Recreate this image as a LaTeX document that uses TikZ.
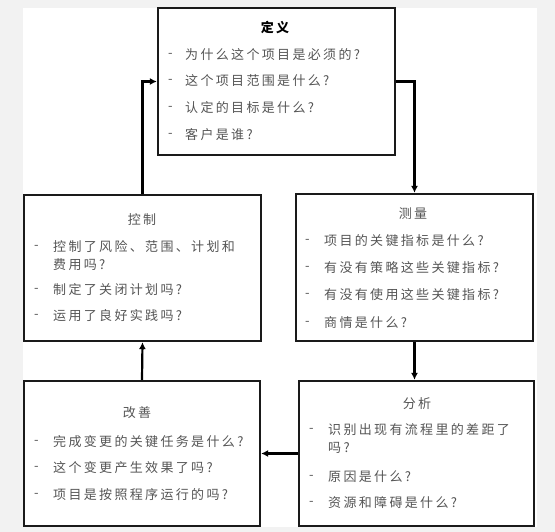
\documentclass[tikz,border=0pt]{standalone}
\usepackage{fontspec}
\usepackage{tikz}
\usepackage{xcolor}
\usetikzlibrary{arrows.meta}
\newfontfamily\cjk{Noto Sans CJK SC}[LetterSpace=18]

\definecolor{bggray}{HTML}{F2F2F2}
\definecolor{boxline}{HTML}{1A1A1A}
\definecolor{itemgray}{HTML}{555555}

\tikzset{
  box/.style={draw=boxline, line width=2.3pt, fill=white, inner sep=0pt},
  ttl/.style={inner sep=0pt, text=itemgray, font=\cjk\fontsize{13}{13}\selectfont},
  itm/.style={anchor=west, inner sep=0pt, text=itemgray, font=\cjk\fontsize{13}{13}\selectfont},
  link/.style={draw=black, line width=2.2pt, -{Latex[length=7pt,width=7pt]}}
}

\begin{document}
\begin{tikzpicture}[x=1pt,y=-1pt]
\fill[bggray] (0,0) rectangle (555,532);
\fill[white] (23,8) rectangle (537,527);

% the five boxes
\node[box, minimum width=237pt, minimum height=147pt] (dy) at (276.5,81.5) {};
\node[box, minimum width=237pt, minimum height=146pt] (kz) at (142.5,268) {};
\node[box, minimum width=237pt, minimum height=147pt] (cl) at (414.5,267.5) {};
\node[box, minimum width=236pt, minimum height=145pt] (gs) at (142,453.5) {};
\node[box, minimum width=235pt, minimum height=145pt] (fx) at (416.5,453.5) {};

% connectors
\draw[link] (dy.east) -| (cl.north);
\draw[link] (cl.south) -- (cl.south |- fx.north);
\draw[link] (fx.west |- gs.east) -- (gs.east);
\draw[link] (gs.north) -- (kz.south);
\draw[link] (kz.north) |- (dy.west);

% titles
\node[ttl, text=black, font=\cjk\bfseries\fontsize{13}{13}\selectfont] (dy-t) at (275,28) {定义};
\node[ttl] (kz-t) at (142,220) {控制};
\node[ttl] (cl-t) at (413,214) {测量};
\node[ttl] (gs-t) at (137,413) {改善};
\node[ttl] (fx-t) at (417,404) {分析};

% define
\foreach \y/\txt [count=\i] in {55/为什么这个项目是必须的?, 81/这个项目范围是什么?,
    108/认定的目标是什么?, 135/客户是谁?}{
  \node[itm] (dy-d\i) at (168,\y) {-};
  \node[itm] (dy-\i) at (185,\y) {\txt};
}

% control
\foreach \y/\txt [count=\i] in {247/控制了风险、范围、计划和, 290/制定了关闭计划吗?,
    316/运用了良好实践吗?}{
  \node[itm] (kz-d\i) at (34,\y) {-};
  \node[itm] (kz-\i) at (53,\y) {\txt};
}
\node[itm] (kz-1b) at (53,265) {费用吗?};

% measure
\foreach \y/\txt [count=\i] in {241/项目的关键指标是什么?, 268/有没有策略这些关键指标?,
    295/有没有使用这些关键指标?, 323/商情是什么?}{
  \node[itm] (cl-d\i) at (305,\y) {-};
  \node[itm] (cl-\i) at (324,\y) {\txt};
}

% improve
\foreach \y/\txt [count=\i] in {442/完成变更的关键任务是什么?, 468/这个变更产生效果了吗?,
    495/项目是按照程序运行的吗?}{
  \node[itm] (gs-d\i) at (34,\y) {-};
  \node[itm] (gs-\i) at (53,\y) {\txt};
}

% analyse
\foreach \y/\txt [count=\i] in {430/识别出现有流程里的差距了, 477/原因是什么?,
    503/资源和障碍是什么?}{
  \node[itm] (fx-d\i) at (309,\y) {-};
  \node[itm] (fx-\i) at (328,\y) {\txt};
}
\node[itm] (fx-1b) at (328,448) {吗?};

\end{tikzpicture}
\end{document}
